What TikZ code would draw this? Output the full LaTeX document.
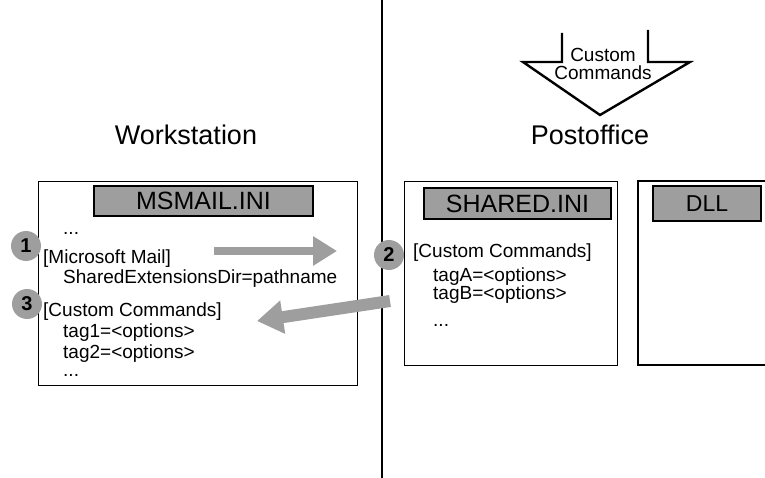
\documentclass[tikz,border=0pt]{standalone}
\usepackage{fontspec}
\setmainfont{Liberation Sans}
\usetikzlibrary{arrows.meta,shapes.geometric}
\begin{document}
\begin{tikzpicture}[x=1pt,y=-1pt,
  txt/.style={font=\fontsize{19}{19}\selectfont, inner sep=0pt, anchor=base west},
  title/.style={font=\fontsize{27}{28}\selectfont, inner sep=0pt},
  box/.style={draw, line width=1.4pt},
  hdr/.style={draw, line width=2pt, fill=black!38, inner sep=0pt, font=\fontsize{25}{25}\selectfont},
  num/.style={circle, fill=black!38, minimum size=30pt, inner sep=0pt, font=\bfseries\fontsize{20}{20}\selectfont},
  hatch/.style={draw=black!38, line width=8pt, -{Triangle[width=28pt,length=24pt]}, fill=black!38},
  hatchb/.style={draw=black!38, line width=12pt, -{Triangle[width=32pt,length=26pt]}, fill=black!38}
]
\useasboundingbox (0,0) rectangle (765,478);
\fill[white] (0,0) rectangle (765,478);

% divider
\coordinate (dtop) at (382,0);
\coordinate (dbot) at (382,478);
\draw[line width=1.4pt] (dtop) -- (dbot);

% titles
\node[title] (ws) at (186,135) {Workstation};
\node[title] (po) at (590,135) {Postoffice};

% boxes
\node[box, minimum width=319pt, minimum height=204pt, anchor=north west] (wbox) at (38,181) {};
\node[box, minimum width=213pt, minimum height=184pt, anchor=north west] (sbox) at (404,181) {};
\draw[line width=1.4pt] (767,181) -- (638,181) -- (638,365) -- (767,365);

% headers
\node[hdr, minimum width=219pt, minimum height=30pt, anchor=north west] (mshdr) at (93,185) {MSMAIL.INI};
\node[hdr, minimum width=187pt, minimum height=31pt, anchor=north west] (shhdr) at (423,187) {SHARED.INI};
\node[hdr, minimum width=108pt, minimum height=35pt, anchor=north west, font=\fontsize{23}{23}\selectfont] (dllhdr) at (652,185) {DLL};

% workstation text
\node[txt] (w0) at (63,235) {...};
\node[txt] (w1) at (43,263) {[Microsoft Mail]};
\node[txt] (w2) at (63,283) {SharedExtensionsDir=pathname};
\node[txt] (w3) at (43,316) {[Custom Commands]};
\node[txt] (w4) at (63,337) {tag1=<options>};
\node[txt] (w5) at (63,358) {tag2=<options>};
\node[txt] (w6) at (63,376) {...};

% shared text
\node[txt] (s1) at (413,258) {[Custom Commands]};
\node[txt] (s2) at (433,281) {tagA=<options>};
\node[txt] (s3) at (433,299) {tagB=<options>};
\node[txt] (s4) at (433,326) {...};

% number circles
\node[num] (n1) at (26,246) {1};
\node[num] (n3) at (27,304) {3};
\node[num] (n2) at (389,255) {2};

% hatched arrows
\coordinate (a1s) at (214,251);
\coordinate (a1e) at (337,251);
\draw[hatch] (a1s) -- (a1e);
\coordinate (a2s) at (390,301);
\coordinate (a2e) at (257,321);
\draw[hatchb] (a2s) -- (a2e);

% block arrow (open top)
\coordinate (b1) at (562,33);
\coordinate (b2) at (562,62);
\coordinate (b3) at (523,62);
\coordinate (b4) at (600,115);
\coordinate (b5) at (690,62);
\coordinate (b6) at (648,62);
\coordinate (b7) at (648,30);
\draw[line width=2.4pt, line join=miter] (b1) -- (b2) -- (b3) -- (b4) -- (b5) -- (b6) -- (b7);
\node[font=\fontsize{19}{18}\selectfont, align=center, inner sep=0pt] (cc) at (603,64) {Custom\\Commands};
\end{tikzpicture}
\end{document}
